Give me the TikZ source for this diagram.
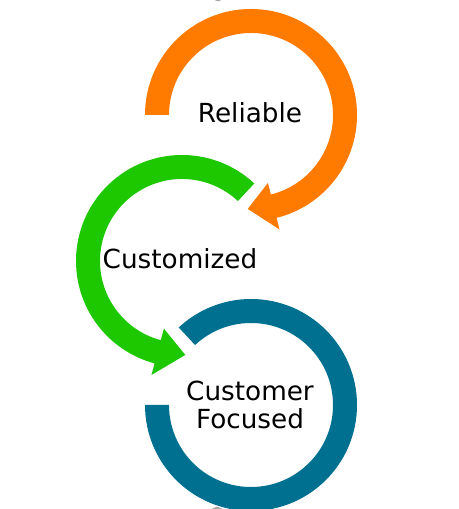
\documentclass[tikz,border=0pt]{standalone}
\usepackage{fontspec}
\setmainfont{DejaVu Sans}
\definecolor{ringorange}{HTML}{FF7B00}
\definecolor{ringgreen}{HTML}{1EC800}
\definecolor{ringblue}{HTML}{007090}
\begin{document}
\begin{tikzpicture}[x=0.02cm,y=0.02cm,
  ringtext/.style={font=\fontsize{14.95}{15.9}\selectfont, align=center, inner sep=0pt}]
\useasboundingbox (0,0) rectangle (458,509);
% Reliable
\begin{scope}[shift={(251,394)}]
\fill[ringorange] (180:106) arc[start angle=180, end angle=-76, radius=106]
   -- (-76:118) -- (-92:94) -- (-76:70) -- (-76:82)
   arc[start angle=-76, end angle=180, radius=82] -- cycle;
\end{scope}
% Customized
\begin{scope}[shift={(182,248)}]
\fill[ringgreen] (47:106) arc[start angle=47, end angle=255, radius=106]
   -- (255:118) -- (272:94) -- (255:70) -- (255:82)
   arc[start angle=255, end angle=47, radius=82] -- cycle;
\end{scope}
% Customer Focused
\begin{scope}[shift={(251,104)}]
\fill[ringblue] (180:106) arc[start angle=180, end angle=493, radius=106]
   -- (133:82) arc[start angle=493, end angle=180, radius=82] -- cycle;
\end{scope}
% small grey marks at the edges
\draw[gray!70, line width=1.5] (218,514) circle[radius=5];
\draw[gray!70, line width=1.5] (217,-4) circle[radius=5];
\node[ringtext] (reliable) at (250,396) {Reliable};
\node[ringtext] (customized) at (180,250) {Customized};
\node[ringtext] (focused) at (250,104.5) {Customer\\Focused};
\end{tikzpicture}
\end{document}
